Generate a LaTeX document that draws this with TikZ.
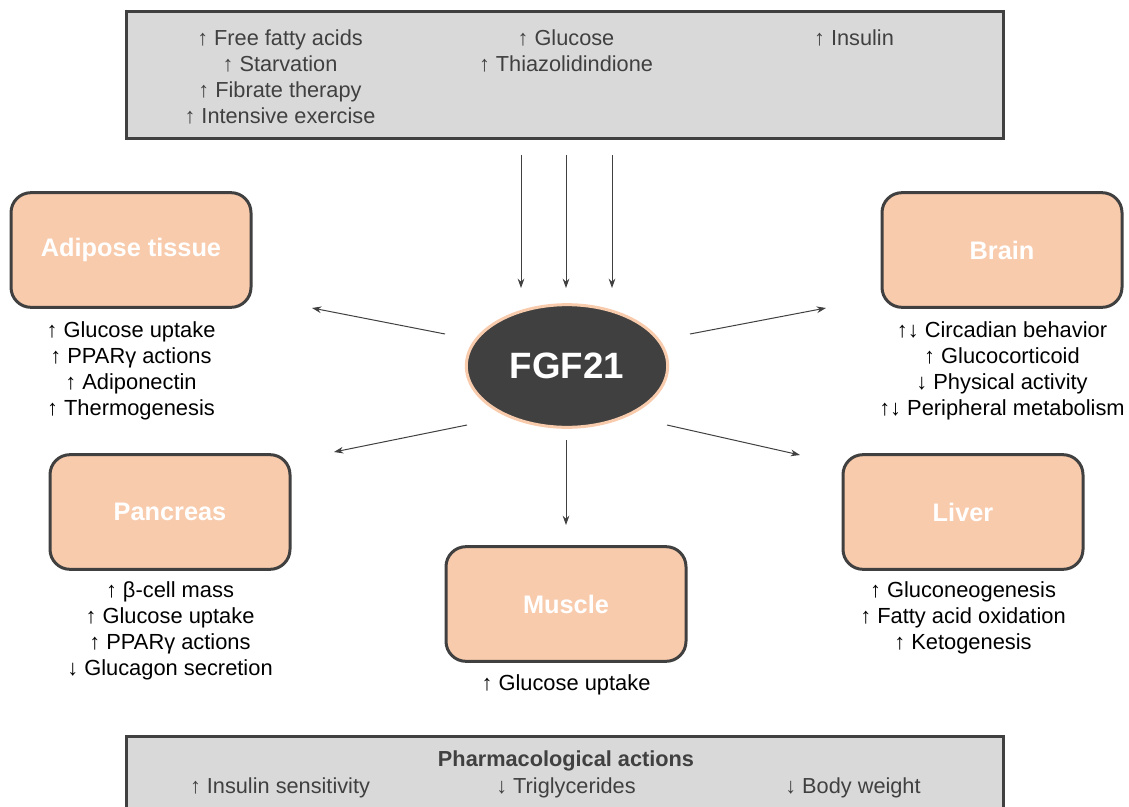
\documentclass[tikz,border=0pt]{standalone}
\usepackage{fontspec}
\setmainfont{Liberation Sans}
\usetikzlibrary{shapes,arrows.meta,positioning}
\definecolor{peach}{HTML}{F8CBAD}
\definecolor{darkgrey}{HTML}{404040}
\definecolor{panelgrey}{HTML}{D9D9D9}

\begin{document}
\begin{tikzpicture}[x=0.75pt, y=-0.75pt,
    organ/.style={rectangle, rounded corners=15pt, draw=darkgrey, line width=2.25pt, fill=peach, minimum width=180pt, minimum height=86pt, inner sep=0pt, text=white, font=\fontsize{19}{22}\selectfont\bfseries},
    effects/.style={align=center, inner sep=0pt, font=\fontsize{16.4}{19.7}\selectfont},
    panel/.style={rectangle, draw=darkgrey, line width=2.25pt, fill=panelgrey, minimum width=658pt, inner sep=0pt},
    cue/.style={align=center, inner sep=0pt, text=darkgrey, font=\fontsize{16.3}{19.7}\selectfont},
    arrow/.style={-{Stealth[length=7pt, width=5pt]}, draw=darkgrey, line width=0.75pt}
]
    \useasboundingbox (0,0) rectangle (1129,807);
    \clip (0,0) rectangle (1129,807);

    % Stimoli in alto
    \node[panel, minimum height=95pt] (stimuli) at (565,75) {};
    \node[cue, anchor=north] (fatty) at (280,29) {↑ Free fatty acids\\↑ Starvation\\↑ Fibrate therapy\\↑ Intensive exercise};
    \node[cue, anchor=north] (glucose) at (566,29) {↑ Glucose\\↑ Thiazolidindione};
    \node[cue, anchor=north] (insulin) at (854,29) {↑ Insulin};

    % FGF21 al centro
    \node[ellipse, draw=peach, line width=2.25pt, fill=darkgrey, minimum width=151pt, minimum height=92pt, text=white, font=\fontsize{27.5}{30}\selectfont\bfseries] (fgf) at (567,366) {FGF21};

    % Organi bersaglio
    \node[organ] (adipose) at (131,250) {Adipose tissue};
    \node[organ] (brain) at (1002,250) {Brain};
    \node[organ] (pancreas) at (170,512) {Pancreas};
    \node[organ] (liver) at (963,512) {Liver};
    \node[organ] (muscle) at (566,604) {Muscle};

    % Effetti
    \node[effects, anchor=north] (adiposefx) at (131,321) {↑ Glucose uptake\\↑ PPARγ actions\\↑ Adiponectin\\↑ Thermogenesis};
    \node[effects, anchor=north] (brainfx) at (1002,321) {↑↓ Circadian behavior\\↑ Glucocorticoid\\↓ Physical activity\\↑↓ Peripheral metabolism};
    \node[effects, anchor=north] (pancreasfx) at (170,581) {↑ β-cell mass\\↑ Glucose uptake\\↑ PPARγ actions\\↓ Glucagon secretion};
    \node[effects, anchor=north] (liverfx) at (963,581) {↑ Gluconeogenesis\\↑ Fatty acid oxidation\\↑ Ketogenesis};
    \node[effects, anchor=north] (musclefx) at (566,674) {↑ Glucose uptake};

    % Frecce in ingresso
    \foreach \i/\x in {1/521, 2/566, 3/612} {
        \coordinate (in\i) at (\x,155);
        \coordinate (to\i) at (\x,288);
        \draw[arrow] (in\i) -- (to\i);
    }

    % Frecce in uscita
    \coordinate (adiposefrom) at (445,334);
    \coordinate (adiposeto) at (312,308);
    \coordinate (brainfrom) at (690,334);
    \coordinate (brainto) at (826,308);
    \coordinate (pancreasfrom) at (467,425);
    \coordinate (pancreasto) at (334,452);
    \coordinate (liverfrom) at (667,425);
    \coordinate (liverto) at (800,455);
    \coordinate (musclefrom) at (566,440);
    \coordinate (muscleto) at (566,525);
    \foreach \o in {adipose, brain, pancreas, liver, muscle}
        \draw[arrow] (\o from) -- (\o to);

    % Azioni farmacologiche
    \node[panel, minimum height=78pt] (pharma) at (565,788) {};
    \node[cue, font=\fontsize{16.3}{19.7}\selectfont\bfseries] (pharmatitle) at (566,761) {Pharmacological actions};
    \node[cue] (sensitivity) at (280,788) {↑ Insulin sensitivity};
    \node[cue] (triglycerides) at (566,788) {↓ Triglycerides};
    \node[cue] (weight) at (853,788) {↓ Body weight};
\end{tikzpicture}
\end{document}
